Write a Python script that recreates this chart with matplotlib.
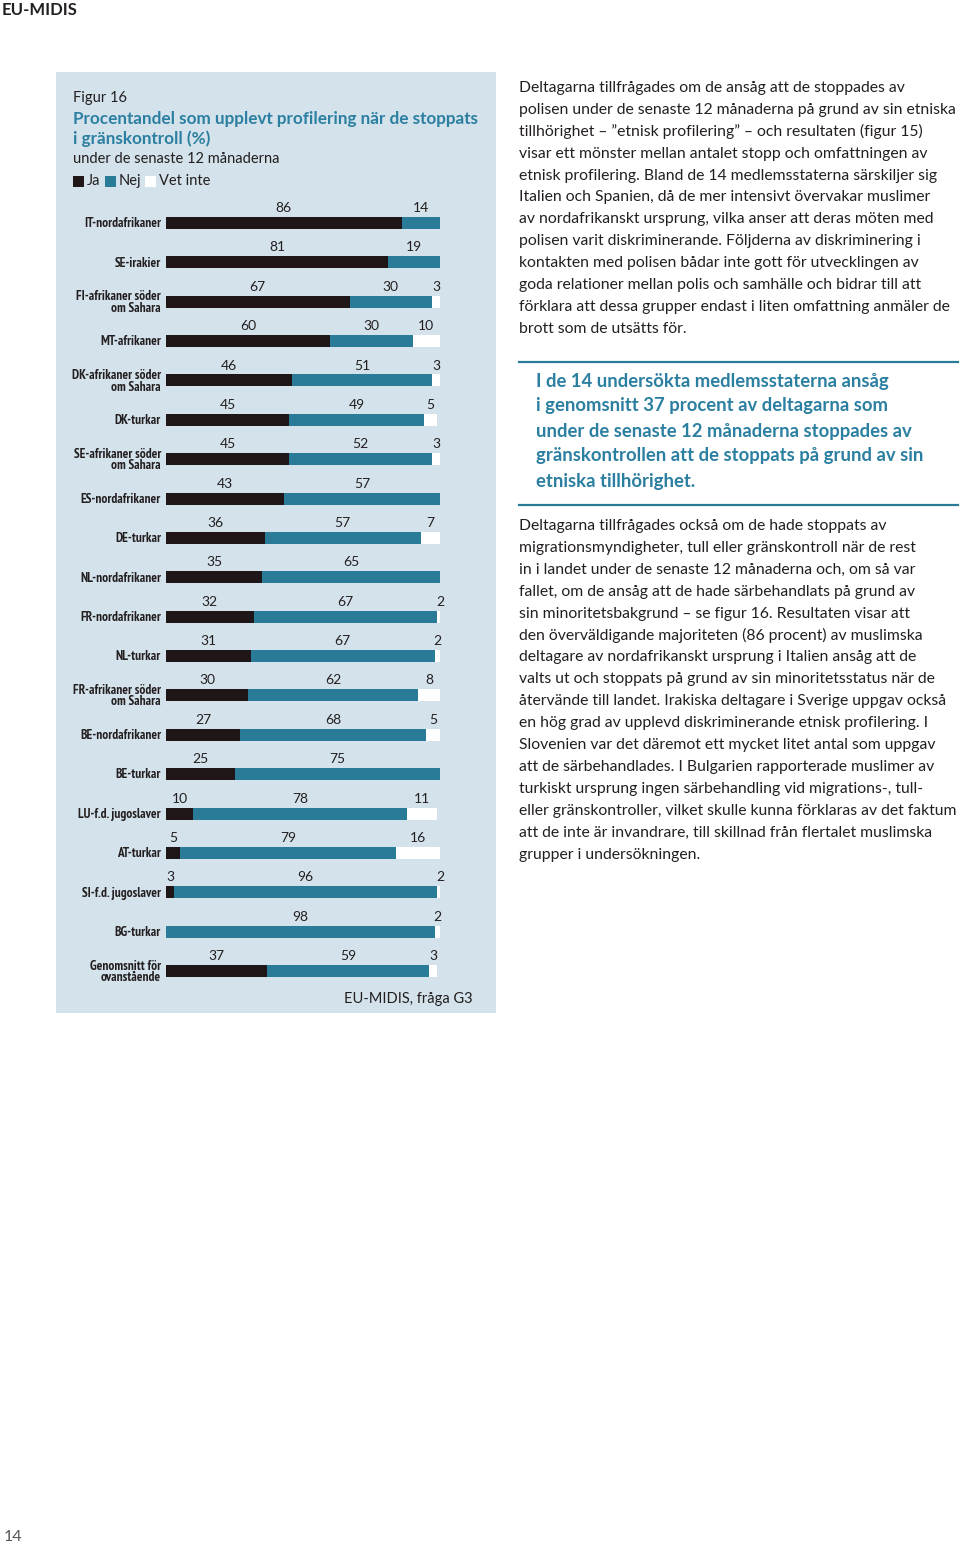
import matplotlib
matplotlib.use("Agg")
import matplotlib.pyplot as plt
from matplotlib.patches import Rectangle
from matplotlib.lines import Line2D

# --- chart data (figur 16) ---
groups = [
    "IT-nordafrikaner", "SE-irakier", "FI-afrikaner söder\nom Sahara", "MT-afrikaner",
    "DK-afrikaner söder\nom Sahara", "DK-turkar", "SE-afrikaner söder\nom Sahara",
    "ES-nordafrikaner", "DE-turkar", "NL-nordafrikaner", "FR-nordafrikaner", "NL-turkar",
    "FR-afrikaner söder\nom Sahara", "BE-nordafrikaner", "BE-turkar", "LU-f.d. jugoslaver",
    "AT-turkar", "SI-f.d. jugoslaver", "BG-turkar", "Genomsnitt för\novanstående",
]
ja = [86, 81, 67, 60, 46, 45, 45, 43, 36, 35, 32, 31, 30, 27, 25, 10, 5, 3, 0, 37]
nej = [14, 19, 30, 30, 51, 49, 52, 57, 57, 65, 67, 67, 62, 68, 75, 78, 79, 96, 98, 59]
vet_inte = [0, 0, 3, 10, 3, 5, 3, 0, 7, 0, 2, 2, 8, 5, 0, 11, 16, 2, 2, 3]
legend_labels = ["Ja", "Nej", "Vet inte"]

# --- page text ---
para1 = [
    "Deltagarna tillfrågades om de ansåg att de stoppades av",
    "polisen under de senaste 12 månaderna på grund av sin etniska",
    "tillhörighet – ”etnisk profilering” – och resultaten (figur 15)",
    "visar ett mönster mellan antalet stopp och omfattningen av",
    "etnisk profilering. Bland de 14 medlemsstaterna särskiljer sig",
    "Italien och Spanien, då de mer intensivt övervakar muslimer",
    "av nordafrikanskt ursprung, vilka anser att deras möten med",
    "polisen varit diskriminerande. Följderna av diskriminering i",
    "kontakten med polisen bådar inte gott för utvecklingen av",
    "goda relationer mellan polis och samhälle och bidrar till att",
    "förklara att dessa grupper endast i liten omfattning anmäler de",
    "brott som de utsätts för.",
]
highlight = [
    "I de 14 undersökta medlemsstaterna ansåg",
    "i genomsnitt 37 procent av deltagarna som",
    "under de senaste 12 månaderna stoppades av",
    "gränskontrollen att de stoppats på grund av sin",
    "etniska tillhörighet.",
]
para2 = [
    "Deltagarna tillfrågades också om de hade stoppats av",
    "migrationsmyndigheter, tull eller gränskontroll när de rest",
    "in i landet under de senaste 12 månaderna och, om så var",
    "fallet, om de ansåg att de hade särbehandlats på grund av",
    "sin minoritetsbakgrund – se figur 16. Resultaten visar att",
    "den överväldigande majoriteten (86 procent) av muslimska",
    "deltagare av nordafrikanskt ursprung i Italien ansåg att de",
    "valts ut och stoppats på grund av sin minoritetsstatus när de",
    "återvände till landet. Irakiska deltagare i Sverige uppgav också",
    "en hög grad av upplevd diskriminerande etnisk profilering. I",
    "Slovenien var det däremot ett mycket litet antal som uppgav",
    "att de särbehandlades. I Bulgarien rapporterade muslimer av",
    "turkiskt ursprung ingen särbehandling vid migrations-, tull-",
    "eller gränskontroller, vilket skulle kunna förklaras av det faktum",
    "att de inte är invandrare, till skillnad från flertalet muslimska",
    "grupper i undersökningen.",
]

# colours
BLACK = "#1e1617"
TEAL = "#2a7b97"
TITLE_TEAL = "#2b7fa1"
PANEL = "#d4e2eb"
TEXT = "#231f20"

W, H = 960, 1545
FONT = "Lato"
NARROW = ["PT Sans Narrow", "Roboto Condensed"]
BODY = 11.3


def fx(px):
    return px / W


def fy(py):
    return 1 - py / H


fig = plt.figure(figsize=(W / 100, H / 100), dpi=100)
fig.patch.set_facecolor("white")

# panel background
fig.patches.append(Rectangle((fx(56), fy(1013)), fx(496) - fx(56), (1013 - 72) / H,
                             transform=fig.transFigure, facecolor=PANEL,
                             edgecolor="none", zorder=-5))

# page header / footer
fig.text(fx(2), fy(10), "EU-MIDIS", fontsize=12, fontweight="bold", family=FONT,
         color=TEXT, va="center", ha="left")
fig.text(fx(4), fy(1537), "14", fontsize=11.5, family=FONT, color="#555555",
         va="center", ha="left")

# figure heading
fig.text(fx(73), fy(98), "Figur 16", fontsize=10.5, family=FONT, color=TEXT, va="center")
fig.text(fx(73), fy(119), "Procentandel som upplevt profilering när de stoppats",
         fontsize=12.3, fontweight="bold", family=FONT, color=TITLE_TEAL, va="center")
fig.text(fx(73), fy(139), "i gränskontroll (%)", fontsize=12.3, fontweight="bold",
         family=FONT, color=TITLE_TEAL, va="center")
fig.text(fx(73), fy(159), "under de senaste 12 månaderna", fontsize=10.5, family=FONT,
         color=TEXT, va="center")

# legend
legend_x = [73, 105, 145]
for lx, lab, col in zip(legend_x, legend_labels, [BLACK, TEAL, "white"]):
    fig.patches.append(Rectangle((fx(lx), fy(187)), 11 / W, 11 / H,
                                 transform=fig.transFigure, facecolor=col,
                                 edgecolor="none", zorder=1))
    fig.text(fx(lx + 14), fy(181), lab, fontsize=10.5, family=FONT, color=TEXT,
             va="center")

# bar axes: x 0..100 -> px 166..440, rows spaced ~39.4 px
row_h = (971 - 223) / (len(groups) - 1)
top = 223 - row_h / 2
bottom = 971 + row_h / 2
ax = fig.add_axes([fx(166), fy(bottom), fx(440) - fx(166), (bottom - top) / H])
ax.set_zorder(3)
ax.patch.set_visible(False)
ax.set_xlim(0, 100)
ax.set_ylim(len(groups) - 0.5, -0.5)
ax.axis("off")

y = list(range(len(groups)))
left2 = [a + b for a, b in zip(ja, nej)]
bh = 12 / row_h
ax.barh(y, ja, height=bh, color=BLACK, edgecolor="none")
ax.barh(y, nej, left=ja, height=bh, color=TEAL, edgecolor="none")
ax.barh(y, vet_inte, left=left2, height=bh, color="white", edgecolor="none")

# value labels above each segment, group names to the left
for i in y:
    segs = [(0, ja[i]), (ja[i], nej[i]), (left2[i], vet_inte[i])]
    for start, val in segs:
        if val == 0:
            continue
        ax.text(start + val / 2, i - 0.38, str(val), ha="center", va="center",
                fontsize=10, family=FONT, color=TEXT)
    ax.text(-1.8, i + 0.02, groups[i], ha="right", va="center", fontsize=9.5,
            fontweight="bold", family=NARROW, color=TEXT,
            linespacing=0.85, multialignment="right", clip_on=False)

fig.text(fx(473), fy(999), "EU-MIDIS, fråga G3", fontsize=10.5, family=FONT,
         color=TEXT, ha="right", va="center")

# right column text
for k, line in enumerate(para1):
    fig.text(fx(519), fy(88 + k * 21.9), line, fontsize=BODY, family=FONT, color=TEXT,
             va="center")

for ly in (362, 505):
    fig.lines.append(Line2D([fx(519), fx(958)], [fy(ly), fy(ly)], transform=fig.transFigure,
                            color=TEAL, linewidth=1.6))
for k, line in enumerate(highlight):
    fig.text(fx(536), fy(381 + k * 25), line, fontsize=13.3, fontweight="bold",
             family=FONT, color=TITLE_TEAL, va="center")

for k, line in enumerate(para2):
    fig.text(fx(519), fy(526 + k * 21.9), line, fontsize=BODY, family=FONT, color=TEXT,
             va="center")

fig.savefig("out.png", dpi=100, facecolor="white")
